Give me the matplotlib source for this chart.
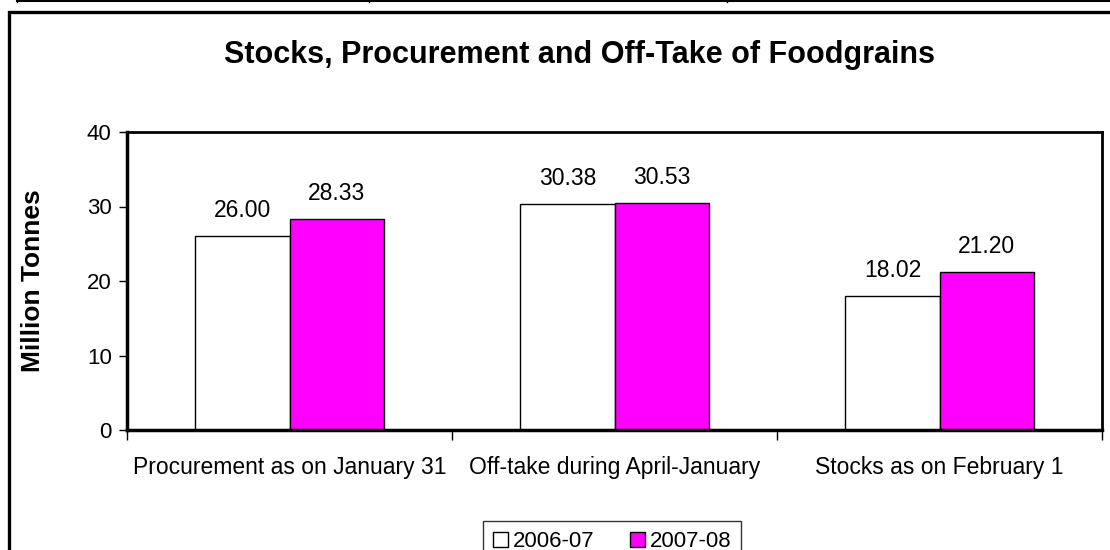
import matplotlib
matplotlib.use("Agg")
import matplotlib.pyplot as plt
import numpy as np
from matplotlib.lines import Line2D
from matplotlib.patches import Rectangle

categories = ["Procurement as on January 31", "Off-take during April-January",
              "Stocks as on February 1"]
series_names = ["2006-07", "2007-08"]
values_2006 = [26.00, 30.38, 18.02]
values_2007 = [28.33, 30.53, 21.20]
colors = ["white", "#FF00FF"]
yticks = [0, 10, 20, 30, 40]


def main():
    plt.rcParams["font.family"] = ["Liberation Sans", "DejaVu Sans"]
    fig = plt.figure(figsize=(11.1, 5.5), dpi=100)
    W, H = 1110, 550

    # page decoration: outer chart frame and table line above it
    fig.add_artist(Rectangle((9 / W, -0.1), 1.2, 1 - 11.5 / H + 0.1,
                             transform=fig.transFigure, fill=False,
                             edgecolor="black", linewidth=2.4))
    fig.add_artist(Line2D([17 / W, 1.0], [1 - 1 / H, 1 - 1 / H],
                          transform=fig.transFigure, color="black", lw=1.5))
    for xv in [17, 369, 727]:
        fig.add_artist(Line2D([xv / W, xv / W], [1.0, 1 - 2 / H],
                              transform=fig.transFigure, color="black", lw=1))

    ax = fig.add_axes([127 / W, 1 - 430 / H, (1102 - 127) / W, (430 - 132) / H])
    x = np.arange(len(categories))
    w = 0.29
    bars1 = ax.bar(x - w / 2, values_2006, w, color=colors[0], edgecolor="black",
                   linewidth=1, label=series_names[0])
    bars2 = ax.bar(x + w / 2, values_2007, w, color=colors[1], edgecolor="black",
                   linewidth=1, label=series_names[1])
    for bars in (bars1, bars2):
        for b in bars:
            ax.annotate("%.2f" % b.get_height(),
                        (b.get_x() + b.get_width() / 2, b.get_height()),
                        xytext=(0, 10), textcoords="offset points",
                        ha="center", va="bottom", fontsize=16.5)

    ax.set_xlim(-0.5, len(categories) - 0.5)
    ax.set_ylim(0, 40)
    ax.set_yticks(yticks)
    ax.tick_params(axis="y", labelsize=16, length=6, width=1, pad=5)
    ax.set_xticks(x)
    ax.set_xticklabels(categories, fontsize=16.5)
    ax.tick_params(axis="x", length=0, pad=19)
    ax.set_xticks(np.arange(-0.5, len(categories)), minor=True)
    ax.tick_params(axis="x", which="minor", length=7, width=1)
    for side in ["left", "bottom"]:
        ax.spines[side].set_linewidth(2.5)
    for side in ["top", "right"]:
        ax.spines[side].set_linewidth(2)

    ax.set_ylabel("Million Tonnes", fontsize=19, fontweight="bold")
    ax.yaxis.set_label_coords(-0.084, 0.5)
    fig.text(579 / W, 1 - 55 / H, "Stocks, Procurement and Off-Take of Foodgrains",
             ha="center", va="center", fontsize=22, fontweight="bold")

    leg = fig.legend(loc="upper center", bbox_to_anchor=(612 / W, 1 - 510 / H),
                     ncol=2, fontsize=16, frameon=True, fancybox=False,
                     edgecolor="black", handlelength=0.7, handleheight=0.7,
                     handletextpad=0.2, columnspacing=1.6, borderpad=0.45)
    leg.get_frame().set_linewidth(1)

    fig.savefig("out.png", dpi=100)
    plt.close(fig)


if __name__ == "__main__":
    main()
